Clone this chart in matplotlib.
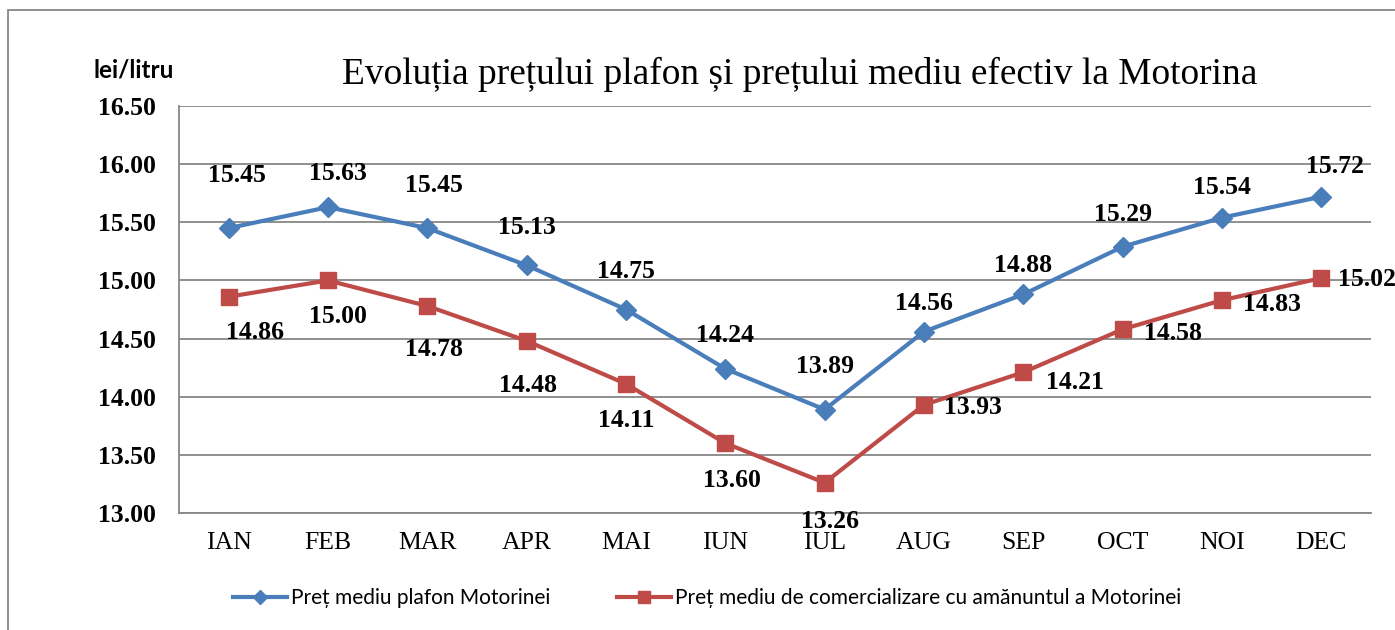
import matplotlib
matplotlib.use("Agg")
import matplotlib.pyplot as plt
from matplotlib.lines import Line2D
import numpy as np

months = ["IAN", "FEB", "MAR", "APR", "MAI", "IUN", "IUL", "AUG", "SEP", "OCT", "NOI", "DEC"]
plafon = [15.45, 15.63, 15.45, 15.13, 14.75, 14.24, 13.89, 14.56, 14.88, 15.29, 15.54, 15.72]
efectiv = [14.86, 15.00, 14.78, 14.48, 14.11, 13.60, 13.26, 13.93, 14.21, 14.58, 14.83, 15.02]
yticks = [13.00, 13.50, 14.00, 14.50, 15.00, 15.50, 16.00, 16.50]
series_names = ["Preț mediu plafon Motorinei",
                "Preț mediu de comercializare cu amănuntul a Motorinei"]
title = "Evoluția prețului plafon și prețului mediu efectiv la Motorina"
unit = "lei/litru"

# label offsets in points (layout only)
blue_off = [(6, 38), (7, 24), (5, 31), (0, 27), (0, 27), (0, 24), (0, 31), (0, 20), (0, 21), (0, 23), (0, 22), (10, 22)]
red_off = [(19, -26), (7, -26), (5, -31), (1, -32), (0, -26), (5, -27), (4, -28),
           (35, -2), (37, -7), (36, -3), (36, -3), (33, -1)]

BLUE = "#4A7EBB"
RED = "#BE4B48"
GRID = "#878787"

fig = plt.figure(figsize=(13.95, 6.3), dpi=100)
ax = fig.add_axes([179/1395, 1-513/630, (1371-179)/1395, (513-106)/630])

x = np.arange(len(months)) + 0.5
ax.plot(x, plafon, color=BLUE, lw=3, marker="D", ms=10, mfc=BLUE, mec=BLUE, zorder=3)
ax.plot(x, efectiv, color=RED, lw=3, marker="s", ms=11, mfc=RED, mec=RED, zorder=3)

ax.set_xlim(0, len(months))
ax.set_ylim(13.0, 16.5)
ax.set_yticks(yticks)
ax.set_yticklabels([f"{v:.2f}" for v in yticks], fontfamily="Liberation Serif",
                   fontweight="bold", fontsize=18.5)
ax.set_xticks(x)
ax.set_xticklabels(months, fontfamily="Liberation Serif", fontsize=18.5)
ax.tick_params(axis="y", length=0, pad=17)
ax.tick_params(axis="x", length=0, pad=14)
ax.grid(axis="y", color=GRID, lw=1.3)
ax.set_axisbelow(True)
for s in ["top", "right"]:
    ax.spines[s].set_visible(False)
for s in ["left", "bottom"]:
    ax.spines[s].set_color(GRID)
    ax.spines[s].set_linewidth(1.3)

for xi, v, (dx, dy) in zip(x, plafon, blue_off):
    ax.annotate(f"{v:.2f}", (xi, v), xytext=(dx, dy), textcoords="offset points",
                ha="center", va="center", fontfamily="Liberation Serif",
                fontweight="bold", fontsize=18.5)
for xi, v, (dx, dy) in zip(x, efectiv, red_off):
    ax.annotate(f"{v:.2f}", (xi, v), xytext=(dx, dy), textcoords="offset points",
                ha="center", va="center", fontfamily="Liberation Serif",
                fontweight="bold", fontsize=18.5)

fig.text(800/1395, 1-84/630, title, ha="center", va="baseline",
         fontfamily="Liberation Serif", fontsize=26.9)
fig.text(134/1395, 1-77/630, unit, ha="center", va="baseline",
         fontfamily="Lato", fontweight="bold", fontsize=17.5)

handles = [Line2D([], [], color=BLUE, lw=3, marker="D", ms=7),
           Line2D([], [], color=RED, lw=3, marker="s", ms=8)]
leg = fig.legend(handles, series_names, loc="center", bbox_to_anchor=(707/1395, 1-598/630),
                 ncol=2, frameon=False, prop={"family": "Lato", "size": 15},
                 handlelength=2.6, handletextpad=0.2, columnspacing=3.2)

# outer frame (top and left edges visible)
fig.add_artist(plt.Rectangle((8/1395, -0.1), 1.2, 1-10/630+0.1, transform=fig.transFigure,
                             fill=False, edgecolor=GRID, lw=1.3))

fig.savefig("out.png", dpi=100)
